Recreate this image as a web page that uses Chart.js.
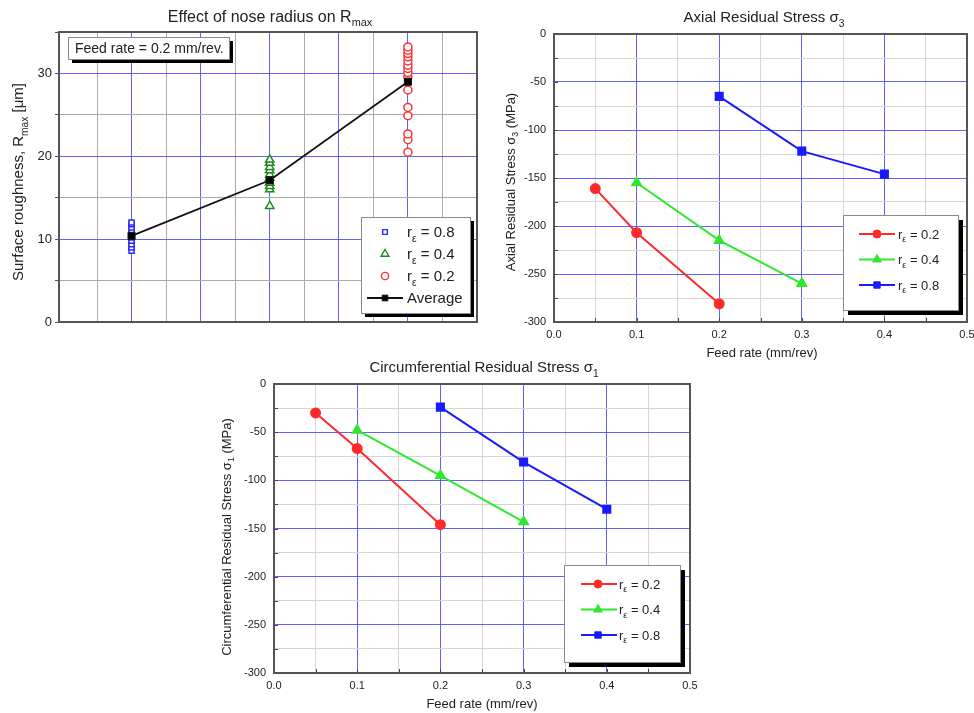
<!DOCTYPE html>
<html>
<head>
<meta charset="utf-8">
<script src="https://cdn.jsdelivr.net/npm/chart.js@4.4.0/dist/chart.umd.min.js"></script>
<style>
  body { margin: 0; background: #fff; width: 974px; height: 713px; position: relative; overflow: hidden; }
  canvas { position: absolute; }
  #c1 { left: 0; top: 0; }
  #c2 { left: 490px; top: 0; }
  #c3 { left: 200px; top: 350px; }
</style>
</head>
<body>
<canvas id="c1" width="490" height="340"></canvas>
<canvas id="c2" width="484" height="360"></canvas>
<canvas id="c3" width="520" height="363"></canvas>
<script>
// --- Rmax at feed 0.2 mm/rev, one column per nose radius
const noseSlots = [1, 3, 5];   // x slots: r=0.8, r=0.4, r=0.2
const rmax08 = [8.6, 9.0, 9.4, 9.8, 10.2, 10.6, 11.0, 11.4, 11.8, 12.0];
const rmax04 = [14.0, 16.0, 16.4, 16.8, 17.4, 17.8, 18.3, 18.7, 19.2, 19.6];
const rmax02 = [20.5, 22.0, 22.7, 24.9, 25.9, 28.0, 29.6, 30.1, 30.6, 31.0, 31.5, 32.0, 32.4, 32.8, 33.2];
const rmaxAvg = [10.4, 17.1, 29.0];
const rmaxTicks = [0, 10, 20, 30];

// --- residual stresses vs feed rate
const feed02 = [0.05, 0.1, 0.2];
const feed04 = [0.1, 0.2, 0.3];
const feed08 = [0.2, 0.3, 0.4];
const axial02 = [-161, -207, -281];
const axial04 = [-155, -215, -260];
const axial08 = [-65, -122, -146];
const circ02 = [-30, -67, -146];
const circ04 = [-48, -95, -143];
const circ08 = [-24, -81, -130];
const feedTicks = ['0.0', '0.1', '0.2', '0.3', '0.4', '0.5'];
const stressTicks = ['0', '-50', '-100', '-150', '-200', '-250', '-300'];

const FONT = '"Liberation Sans", Arial, sans-serif';
const BLUE = 'rgba(70,70,255,0.85)';
const GREY1 = '#ababab';
const GREY2 = '#d6d6d6';
Chart.defaults.font.family = FONT;

function richText(ctx, parts, x, y, size, align, rotate, color) {
  ctx.save();
  ctx.translate(x, y);
  if (rotate) ctx.rotate(-Math.PI / 2);
  ctx.fillStyle = color || '#222';
  ctx.textBaseline = 'alphabetic';
  ctx.textAlign = 'left';
  const fonts = parts.map(p => (p[1] ? size * 0.68 : size) + 'px ' + FONT);
  const widths = parts.map((p, i) => { ctx.font = fonts[i]; return ctx.measureText(p[0]).width; });
  const total = widths.reduce((s, w) => s + w, 0);
  let cx = align === 'left' ? 0 : -total / 2;
  parts.forEach((p, i) => {
    ctx.font = fonts[i];
    ctx.fillText(p[0], cx, size * 0.36 + (p[1] ? size * 0.28 : 0));
    cx += widths[i];
  });
  ctx.restore();
}

function shadowBox(ctx, b) {
  ctx.fillStyle = '#000';
  ctx.fillRect(b.x + b.shadow, b.y + b.shadow, b.w, b.h);
  ctx.fillStyle = '#fff';
  ctx.fillRect(b.x, b.y, b.w, b.h);
  ctx.strokeStyle = '#8a8a8a';
  ctx.lineWidth = 1;
  ctx.strokeRect(b.x + 0.5, b.y + 0.5, b.w, b.h);
}

const rEps = v => [['r'], ['ε', true], [' = ' + v]];

const deco = {
  id: 'deco',
  afterDraw(chart, args, o) {
    const ctx = chart.ctx, a = chart.chartArea;
    ctx.save();
    if (o.inTicks) {
      ctx.strokeStyle = '#444';
      ctx.lineWidth = 1;
      ctx.beginPath();
      chart.scales.x.ticks.forEach(t => {
        const px = Math.round(chart.scales.x.getPixelForValue(t.value)) + 0.5;
        ctx.moveTo(px, a.bottom); ctx.lineTo(px, a.bottom - 4);
      });
      chart.scales.y.ticks.forEach(t => {
        const py = Math.round(chart.scales.y.getPixelForValue(t.value)) + 0.5;
        ctx.moveTo(a.left, py); ctx.lineTo(a.left + 4, py);
      });
      ctx.stroke();
    }
    ctx.strokeStyle = '#555';
    ctx.lineWidth = 2;
    ctx.strokeRect(a.left, a.top, a.right - a.left, a.bottom - a.top);

    richText(ctx, o.title.parts, o.title.x, o.title.y, o.title.size);
    richText(ctx, o.yTitle.parts, o.yTitle.x, o.yTitle.y, o.yTitle.size, 'center', true);
    if (o.xTitle) richText(ctx, o.xTitle.parts, o.xTitle.x, o.xTitle.y, o.xTitle.size);

    if (o.note) {
      shadowBox(ctx, o.note);
      richText(ctx, [[o.note.text]], o.note.tx, o.note.ty, o.note.size, 'left');
    }

    const lg = o.legend;
    shadowBox(ctx, lg);
    lg.items.forEach((it, i) => {
      const y = lg.startY + i * lg.gap;
      if (it.line) {
        ctx.strokeStyle = it.color;
        ctx.lineWidth = it.lineWidth;
        ctx.beginPath();
        ctx.moveTo(lg.lineX[0], y); ctx.lineTo(lg.lineX[1], y);
        ctx.stroke();
      }
      ctx.fillStyle = it.fill;
      ctx.strokeStyle = it.color;
      ctx.lineWidth = it.borderWidth;
      Chart.helpers.drawPoint(ctx, { pointStyle: it.style, radius: it.radius, rotation: 0, borderWidth: it.borderWidth }, lg.markerX, y);
      richText(ctx, it.parts, lg.textX, y, lg.size, 'left');
    });
    ctx.restore();
  }
};

// ---------- Chart 1: Effect of nose radius on Rmax
const col = (slot, vals) => vals.map(v => ({ x: slot, y: v }));

new Chart(document.getElementById('c1'), {
  type: 'scatter',
  data: {
    datasets: [
      { label: 'Average', data: noseSlots.map((x, i) => ({ x, y: rmaxAvg[i] })), showLine: true,
        borderColor: '#111', borderWidth: 1.8, backgroundColor: '#000',
        pointStyle: 'rect', pointRadius: 5, pointBorderWidth: 1 },
      { label: 'rε = 0.8', data: col(noseSlots[0], rmax08), pointStyle: 'rect', pointRadius: 3.6,
        borderColor: '#2a2aff', backgroundColor: '#fff', pointBorderWidth: 1.5 },
      { label: 'rε = 0.4', data: col(noseSlots[1], rmax04), pointStyle: 'triangle', pointRadius: 4.8,
        borderColor: '#1a8c1a', backgroundColor: '#fff', pointBorderWidth: 1.5 },
      { label: 'rε = 0.2', data: col(noseSlots[2], rmax02), pointStyle: 'circle', pointRadius: 4,
        borderColor: '#ff3030', backgroundColor: '#fff', pointBorderWidth: 1.5 }
    ]
  },
  options: {
    responsive: false,
    animation: false,
    layout: { padding: { left: 0, top: 32, right: 13, bottom: 0 } },
    plugins: {
      legend: { display: false },
      tooltip: { enabled: false },
      deco: {
        title: { parts: [['Effect of nose radius on R'], ['max', true]], x: 270, y: 16, size: 16 },
        yTitle: { parts: [['Surface roughness, R'], ['max', true], [' [μm]']], x: 18, y: 182, size: 15 },
        note: { x: 68, y: 37, w: 161, h: 22, shadow: 4, text: 'Feed rate = 0.2 mm/rev.', tx: 75, ty: 48, size: 14 },
        legend: {
          x: 361, y: 217, w: 109, h: 96, shadow: 4, startY: 232, gap: 22,
          markerX: 385, textX: 407, lineX: [367, 403], size: 15,
          items: [
            { parts: rEps('0.8'), color: '#2a2aff', fill: '#fff', style: 'rect', radius: 3.3, borderWidth: 1.4 },
            { parts: rEps('0.4'), color: '#1a8c1a', fill: '#fff', style: 'triangle', radius: 4.5, borderWidth: 1.4 },
            { parts: rEps('0.2'), color: '#ff3030', fill: '#fff', style: 'circle', radius: 3.6, borderWidth: 1.4 },
            { parts: [['Average']], color: '#111', fill: '#000', style: 'rect', radius: 4, borderWidth: 1, line: true, lineWidth: 1.8 }
          ]
        }
      }
    },
    scales: {
      x: {
        type: 'linear', min: -0.05, max: 6,
        afterBuildTicks: s => { const t = []; for (let v = 0.5; v <= 6; v += 0.5) t.push({ value: v }); s.ticks = t; },
        afterFit: s => { s.height = 18; s.paddingLeft = 0; s.paddingRight = 0; },
        ticks: { display: false },
        border: { display: false },
        grid: {
          drawTicks: false,
          color: c => c.tick.value >= 6 ? 'rgba(0,0,0,0)' : (Number.isInteger(c.tick.value) ? BLUE : GREY1)
        }
      },
      y: {
        min: 0, max: 35,
        afterBuildTicks: s => { const t = []; for (let v = 0; v <= 35; v += 5) t.push({ value: v }); s.ticks = t; },
        afterFit: s => { s.width = 59; },
        border: { display: false },
        ticks: {
          autoSkip: false, padding: 3, color: '#222', font: { size: 13 },
          callback: v => rmaxTicks.includes(v) ? String(v) : ''
        },
        grid: {
          tickLength: 4, tickColor: '#555',
          color: c => (c.tick.value === 0 || c.tick.value === 35) ? 'rgba(0,0,0,0)' : (c.tick.value % 10 === 0 ? BLUE : GREY1)
        }
      }
    }
  },
  plugins: [deco]
});

// ---------- Charts 2 and 3: residual stress vs feed rate
function stressChart(id, s02, s04, s08, decoOpts, area) {
  const pts = (xs, ys) => xs.map((x, i) => ({ x, y: ys[i] }));
  const isMajorFeed = v => Math.abs(v * 10 - Math.round(v * 10)) < 1e-6;
  return new Chart(document.getElementById(id), {
    type: 'scatter',
    data: {
      datasets: [
        { label: 'rε = 0.2', data: pts(feed02, s02), showLine: true, borderColor: '#ff2a2a', backgroundColor: '#ff2a2a',
          borderWidth: 2, pointStyle: 'circle', pointRadius: 4.5 },
        { label: 'rε = 0.4', data: pts(feed04, s04), showLine: true, borderColor: '#2ee82e', backgroundColor: '#2ee82e',
          borderWidth: 2, pointStyle: 'triangle', pointRadius: 5 },
        { label: 'rε = 0.8', data: pts(feed08, s08), showLine: true, borderColor: '#1a1aff', backgroundColor: '#1a1aff',
          borderWidth: 2, pointStyle: 'rect', pointRadius: 5 }
      ]
    },
    options: {
      responsive: false,
      animation: false,
      layout: { padding: { left: 0, top: area.top, right: area.right, bottom: 0 } },
      plugins: { legend: { display: false }, tooltip: { enabled: false }, deco: decoOpts },
      scales: {
        x: {
          type: 'linear', min: 0, max: 0.5,
          afterBuildTicks: s => { const t = []; for (let i = 0; i <= 10; i++) t.push({ value: i * 5 / 100 }); s.ticks = t; },
          afterFit: s => { s.height = area.xh; s.paddingLeft = 0; s.paddingRight = 0; },
          border: { display: false },
          ticks: {
            autoSkip: false, maxRotation: 0, padding: 6, color: '#222', font: { size: 11 },
            callback: v => isMajorFeed(v) ? feedTicks[Math.round(v * 10)] : ''
          },
          grid: {
            drawTicks: false,
            color: c => (c.tick.value <= 0 || c.tick.value >= 0.5) ? 'rgba(0,0,0,0)' : (isMajorFeed(c.tick.value) ? BLUE : GREY2)
          }
        },
        y: {
          min: -300, max: 0,
          afterBuildTicks: s => { const t = []; for (let v = -300; v <= 0; v += 25) t.push({ value: v }); s.ticks = t; },
          afterFit: s => { s.width = area.yw; },
          border: { display: false },
          ticks: {
            autoSkip: false, padding: 8, color: '#222', font: { size: 11 },
            callback: v => v % 50 === 0 ? stressTicks[-v / 50] : ''
          },
          grid: {
            drawTicks: false,
            color: c => (c.tick.value <= -300 || c.tick.value >= 0) ? 'rgba(0,0,0,0)' : (c.tick.value % 50 === 0 ? BLUE : GREY2)
          }
        }
      }
    },
    plugins: [deco]
  });
}

const stressLegend = (box) => Object.assign({
  startY: box.y + 19, gap: 25.5, size: 13,
  items: [
    { parts: rEps('0.2'), color: '#ff2a2a', fill: '#ff2a2a', style: 'circle', radius: 4, borderWidth: 1, line: true, lineWidth: 2 },
    { parts: rEps('0.4'), color: '#2ee82e', fill: '#2ee82e', style: 'triangle', radius: 5, borderWidth: 1, line: true, lineWidth: 2 },
    { parts: rEps('0.8'), color: '#1a1aff', fill: '#1a1aff', style: 'rect', radius: 4.5, borderWidth: 1, line: true, lineWidth: 2 }
  ]
}, box);

stressChart('c2', axial02, axial04, axial08, {
  inTicks: true,
  title: { parts: [['Axial Residual Stress σ'], ['3', true]], x: 274, y: 17, size: 15 },
  yTitle: { parts: [['Axial Residual Stress σ'], ['3', true], [' (MPa)']], x: 20, y: 182, size: 13 },
  xTitle: { parts: [['Feed rate (mm/rev)']], x: 272, y: 352, size: 13 },
  legend: stressLegend({ x: 353, y: 215, w: 115, h: 95, shadow: 5, markerX: 387, textX: 408, lineX: [369, 405] })
}, { top: 34, right: 6, xh: 38, yw: 64 });

stressChart('c3', circ02, circ04, circ08, {
  inTicks: true,
  title: { parts: [['Circumferential Residual Stress σ'], ['1', true]], x: 284, y: 17, size: 15 },
  yTitle: { parts: [['Circumferential Residual Stress σ'], ['1', true], [' (MPa)']], x: 26, y: 187, size: 13 },
  xTitle: { parts: [['Feed rate (mm/rev)']], x: 282, y: 353, size: 13 },
  legend: stressLegend({ x: 364, y: 215, w: 116, h: 97, shadow: 5, markerX: 398, textX: 419, lineX: [381, 417] })
}, { top: 34, right: 30, xh: 40, yw: 74 });
</script>
</body>
</html>
